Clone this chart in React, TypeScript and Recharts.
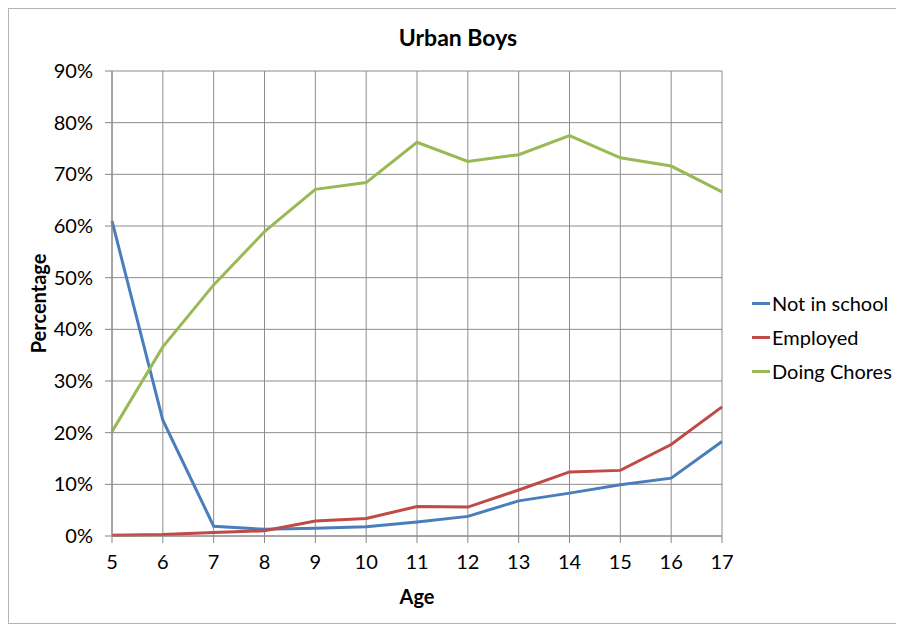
import React from "react";
import {
  LineChart,
  Line,
  XAxis,
  YAxis,
  CartesianGrid,
  Legend,
} from "recharts";

const ages = [5, 6, 7, 8, 9, 10, 11, 12, 13, 14, 15, 16, 17];
const notInSchool = [61.0, 22.4, 1.9, 1.3, 1.5, 1.8, 2.7, 3.8, 6.8, 8.3, 9.9, 11.2, 18.3];
const employed = [0.15, 0.3, 0.7, 1.0, 2.9, 3.4, 5.7, 5.6, 8.9, 12.4, 12.7, 17.7, 25.0];
const doingChores = [20.2, 36.6, 48.6, 58.9, 67.1, 68.4, 76.2, 72.5, 73.8, 77.5, 73.2, 71.6, 66.6];
const yTicks = [0, 10, 20, 30, 40, 50, 60, 70, 80, 90];

const seriesInfo = [
  { key: "notInSchool", name: "Not in school", color: "#4a7ebb" },
  { key: "employed", name: "Employed", color: "#be4b48" },
  { key: "doingChores", name: "Doing Chores", color: "#98b954" },
];

const data = ages.map((age, i) => ({
  age,
  notInSchool: notInSchool[i],
  employed: employed[i],
  doingChores: doingChores[i],
}));

const FONT = "Lato, 'Open Sans', sans-serif";
const FS = 20;

const LegendContent = () => (
  <div style={{ fontFamily: FONT, fontSize: 20, color: "#000", whiteSpace: "nowrap" }}>
    {seriesInfo.map((s) => (
      <div
        key={s.key}
        style={{ display: "flex", alignItems: "center", height: 34 }}
      >
        <div style={{ width: 18, height: 3, background: s.color, marginRight: 2 }} />
        <span>{s.name}</span>
      </div>
    ))}
  </div>
);

export default function App() {
  return (
    <div
      style={{
        position: "relative",
        width: 898,
        height: 614,
        border: "1px solid #b4b4b4",
        background: "#fff",
      }}
    >
      <div
        style={{
          position: "absolute",
          top: 15,
          left: 0,
          width: "100%",
          textAlign: "center",
          fontFamily: FONT,
          fontWeight: 700,
          fontSize: 23,
          lineHeight: "26px",
          color: "#000",
          zIndex: 2,
        }}
      >
        Urban Boys
      </div>
      <LineChart
        width={898}
        height={614}
        data={data}
        margin={{ top: 62, right: 185, bottom: 0, left: 0 }}
      >
        <CartesianGrid stroke="#8c8c8c" strokeWidth={1} />
        <XAxis
          dataKey="age"
          type="number"
          domain={[5, 17]}
          ticks={ages}
          interval={0}
          height={87}
          tickSize={7}
          tickMargin={12}
          stroke="#868686"
          tick={{ fill: "#000", fontSize: FS, fontFamily: FONT }}
          label={{
            content: (props: any) => {
              const vb = props.viewBox || {};
              return (
                <text
                  x={vb.x + vb.width / 2}
                  y={vb.y + 60}
                  textAnchor="middle"
                  dominantBaseline="central"
                  fontFamily={FONT}
                  fontWeight={700}
                  fontSize={FS}
                  fill="#000"
                >
                  Age
                </text>
              );
            },
          }}
        />
        <YAxis
          type="number"
          domain={[0, 90]}
          ticks={yTicks}
          interval={0}
          width={103}
          tickSize={7}
          tickMargin={12}
          stroke="#868686"
          tickFormatter={(v: number) => `${v}%`}
          tick={{ fill: "#000", fontSize: FS, fontFamily: FONT }}
          label={{
            content: (props: any) => {
              const vb = props.viewBox || {};
              const cx = vb.x + 29;
              const cy = vb.y + vb.height / 2;
              return (
                <text
                  x={cx}
                  y={cy}
                  transform={`rotate(-90, ${cx}, ${cy})`}
                  textAnchor="middle"
                  dominantBaseline="central"
                  fontFamily={FONT}
                  fontWeight={700}
                  fontSize={FS}
                  fill="#000"
                >
                  Percentage
                </text>
              );
            },
          }}
        />
        <Legend
          content={<LegendContent />}
          layout="vertical"
          align="center"
          verticalAlign="middle"
          wrapperStyle={{ left: 743, top: 277, width: 155 }}
        />
        {seriesInfo.map((s) => (
          <Line
            key={s.key}
            type="linear"
            dataKey={s.key}
            name={s.name}
            stroke={s.color}
            strokeWidth={3}
            dot={false}
            activeDot={false}
            isAnimationActive={false}
          />
        ))}
      </LineChart>
    </div>
  );
}
